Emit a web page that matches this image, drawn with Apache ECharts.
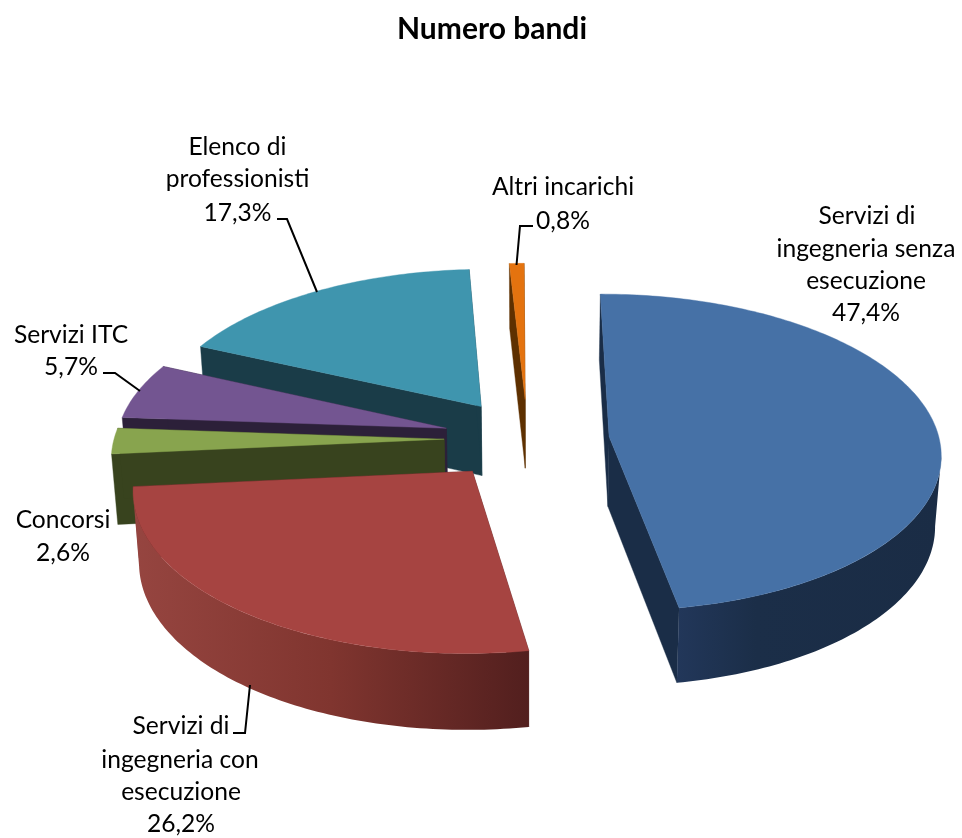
<!DOCTYPE html>
<html><head><meta charset="utf-8">
<style>html,body{margin:0;padding:0;background:#fff}#c{width:962px;height:838px}</style>
<script src="https://cdn.jsdelivr.net/npm/echarts@6/dist/echarts.min.js"></script>
</head><body><div id="c"></div>
<script>
// ---- data ----
const chartTitle = 'Numero bandi';
const categories = ['Servizi di ingegneria senza esecuzione','Servizi di ingegneria con esecuzione','Concorsi','Servizi ITC','Elenco di professionisti','Altri incarichi'];
const values = [47.4, 26.2, 2.6, 5.7, 17.3, 0.8];
const labelLines = [
  ['Servizi di','ingegneria senza','esecuzione'],
  ['Servizi di','ingegneria con','esecuzione'],
  ['Concorsi'],
  ['Servizi ITC'],
  ['Elenco di','professionisti'],
  ['Altri incarichi']
];
// ---- styling and layout ----
const topColors  = ['#4671a6','#a64441','#88a44e','#735591','#3f95ae','#e4730f'];
const sideColors = ['#1a2d47','#502020','#38431e','#2c2039','#1a3c48','#5e3000'];
// outer wall shading, listed from the right end of the wall to its left end
const wallStops  = [
  [[0,'#1a2c45'],[0.7,'#1b2e48'],[1,'#22375a']],
  [[0,'#521f1e'],[0.5,'#80352f'],[1,'#964540']],
  [[0,'#38431e'],[1,'#38431e']],
  [[0,'#2c2039'],[1,'#2c2039']],
  [[0,'#1a3c48'],[1,'#1a3c48']],
  [[0,'#5e3000'],[1,'#5e3000']]
];
const explodeX = [0.24,-0.171,-0.26,-0.255,-0.151,-0.015];
const explodeZ = [-0.012,0.205,0.005,-0.065,-0.207,-0.255];
const paintOrder = [4,3,2,1,5,0];
const firstAngle = -0.3;
const CX=530, CY=438.4, R=330, RY=157, K=0.1, DEPTH=70, SHRINK=0.985;
const VIS_FROM=97, VIS_TO=262;
const labelPos = [
  [[867,216],[866,249],[866,281],[866,313]],
  [[181,726],[180,760],[181,792],[181,824]],
  [[63,520],[63,553]],
  [[71,335],[71,367]],
  [[237.5,147],[237.5,179],[237.5,213]],
  [[563,187],[563,221]]
];
const leaders = [
  null,
  [[233,733],[245,733],[250,685]],
  null,
  [[103,373],[115,373],[140,391]],
  [[277,219],[287,219],[317,292]],
  [[533,226],[520,226],[516.5,265]]
];
const FONT='Lato';

// ---- projection ----
function proj(X,Z,bottom){
  const s=1/(1-K*Z);
  const f=bottom?SHRINK:1;
  return [CX+X*R*s*f, CY+Z*RY*s*f+(bottom?DEPTH*s:0)];
}
const total=values.reduce((a,b)=>a+b,0);
const starts=[];let acc=firstAngle;
values.forEach(v=>{starts.push(acc);acc+=v/total*360;});
function rim(i,deg,bottom){
  const t=deg*Math.PI/180;
  return proj(explodeX[i]+Math.sin(t),explodeZ[i]-Math.cos(t),bottom);
}
function arc(i,a,b,bottom){
  const n=Math.max(2,Math.ceil(Math.abs(b-a)));
  const pts=[];
  for(let j=0;j<=n;j++)pts.push(rim(i,a+(b-a)*j/n,bottom));
  return pts;
}
function poly(points,fill){
  return {type:'polygon',shape:{points},style:{fill,stroke:typeof fill==='string'?fill:null,lineWidth:0.4},silent:true};
}
function renderSlice(params,api){
  const i=api.value(0);
  const a=starts[i],b=a+values[i]/total*360;
  const apexT=proj(explodeX[i],explodeZ[i],false),apexB=proj(explodeX[i],explodeZ[i],true);
  const kids=[];
  kids.push(poly([apexT,rim(i,a,false),rim(i,a,true),apexB],sideColors[i]));
  kids.push(poly([apexT,rim(i,b,false),rim(i,b,true),apexB],sideColors[i]));
  const va=Math.max(a,VIS_FROM),vb=Math.min(b,VIS_TO);
  if(vb>va){
    const top=arc(i,va,vb,false),bot=arc(i,va,vb,true).reverse();
    kids.push(poly(top.concat(bot),{type:'linear',x:1,y:0,x2:0,y2:0,colorStops:wallStops[i].map(s=>({offset:s[0],color:s[1]}))}));
  }
  kids.push(poly([apexT].concat(arc(i,a,b,false)),topColors[i]));
  return {type:'group',children:kids};
}

const pct=v=>v.toFixed(1).replace('.',',')+'%';
const graphics=[];
categories.forEach((c,i)=>{
  const lines=labelLines[i].concat([pct(values[i])]);
  lines.forEach((t,j)=>{
    graphics.push({type:'text',x:labelPos[i][j][0],y:labelPos[i][j][1],silent:true,z:10,
      style:{text:t,fill:'#000',font:'24.6px '+FONT,textAlign:'center',textVerticalAlign:'middle'}});
  });
  if(leaders[i])graphics.push({type:'polyline',shape:{points:leaders[i]},silent:true,z:10,
    style:{stroke:'#000',lineWidth:2,fill:null}});
});

const chart=echarts.init(document.getElementById('c'),null,{renderer:'canvas'});
chart.setOption({
  animation:false,
  backgroundColor:'#fff',
  title:{text:chartTitle,left:487,top:9,textAlign:'center',
    textStyle:{fontFamily:FONT,fontWeight:'bold',fontSize:30,color:'#000'}},
  graphic:graphics,
  series:[{type:'custom',coordinateSystem:'none',renderItem:renderSlice,
    data:paintOrder.map(i=>[i,values[i]]),silent:true,clip:false}]
});
</script></body></html>
